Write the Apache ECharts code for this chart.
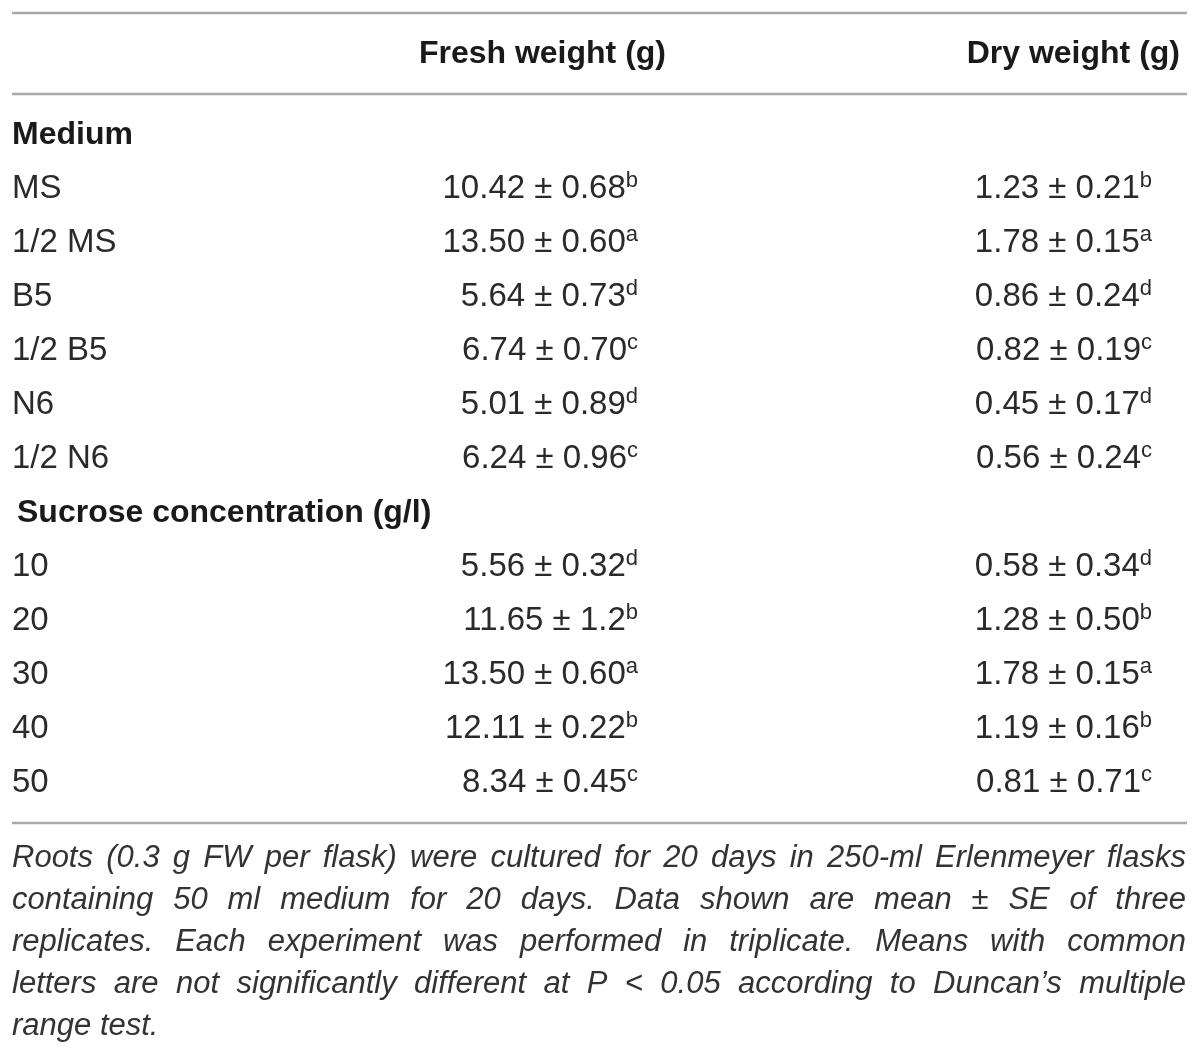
<!DOCTYPE html>
<html>
<head>
<meta charset="utf-8">
<script src="https://cdn.jsdelivr.net/npm/echarts@6/dist/echarts.min.js"></script>
<style>
  html, body { margin: 0; padding: 0; background: #fff; }
  #table-box { width: 1200px; height: 1057px; }
</style>
</head>
<body>
<div id="table-box"></div>
<script>
var FONT = '"Liberation Sans", Arial, Helvetica, sans-serif';
var TXT = 33;   // regular cells
var HEAD = 32;  // bold headers

// rows of the table (first column)
var rowLabels = ['Medium', 'MS', '1/2 MS', 'B5', '1/2 B5', 'N6', '1/2 N6',
    'Sucrose concentration (g/l)', '10', '20', '30', '40', '50'];
var groupRows = ['Medium', 'Sucrose concentration (g/l)'];
var columns = ['Fresh weight (g)', 'Dry weight (g)'];

// fresh weight
var freshMean   = [null, '10.42', '13.50', '5.64', '6.74', '5.01', '6.24', null, '5.56', '11.65', '13.50', '12.11', '8.34'];
var freshSE     = [null, '0.68', '0.60', '0.73', '0.70', '0.89', '0.96', null, '0.32', '1.2', '0.60', '0.22', '0.45'];
var freshLetter = [null, 'b', 'a', 'd', 'c', 'd', 'c', null, 'd', 'b', 'a', 'b', 'c'];

// dry weight
var dryMean   = [null, '1.23', '1.78', '0.86', '0.82', '0.45', '0.56', null, '0.58', '1.28', '1.78', '1.19', '0.81'];
var drySE     = [null, '0.21', '0.15', '0.24', '0.19', '0.17', '0.24', null, '0.34', '0.50', '0.15', '0.16', '0.71'];
var dryLetter = [null, 'b', 'a', 'd', 'c', 'd', 'c', null, 'd', 'b', 'a', 'b', 'c'];

var footLines = [
    'Roots (0.3 g FW per flask) were cultured for 20 days in 250-ml Erlenmeyer flasks',
    'containing 50 ml medium for 20 days. Data shown are mean \u00b1 SE of three',
    'replicates. Each experiment was performed in triplicate. Means with common',
    'letters are not significantly different at P < 0.05 according to Duncan\u2019s multiple',
    'range test.'
];

// cells for the value columns
var cells = [];
var cols = [[freshMean, freshSE, freshLetter], [dryMean, drySE, dryLetter]];
cols.forEach(function (c, ci) {
    for (var i = 0; i < rowLabels.length; i++) {
        if (c[0][i] === null) continue;
        cells.push({ value: [ci, i], mean: c[0][i], se: c[1][i], letter: c[2][i] });
    }
});

// justified footnote, word by word
var footSize = 31;
var footLeft = 12, footRight = 1186, footTop = 858, footStep = 42;
var ctx = document.createElement('canvas').getContext('2d');
function footFont(s) { return 'italic ' + s + 'px ' + FONT; }
function measure(t, s) { ctx.font = footFont(s); return ctx.measureText(t).width; }
function tooWide(l) {
    var n = l.split(' ').length - 1;
    var w = l.split(' ').reduce(function (s, x) { return s + measure(x, footSize); }, 0);
    return w + n * footSize * 0.22 > footRight - footLeft;
}
while (footLines.some(tooWide)) footSize -= 0.25;

var footGraphics = [];
footLines.forEach(function (line, li) {
    var words = line.split(' ');
    var y = footTop + li * footStep;
    var last = li === footLines.length - 1;
    var wordsW = words.reduce(function (s, w) { return s + measure(w, footSize); }, 0);
    var gap = last ? measure(' ', footSize) : (footRight - footLeft - wordsW) / (words.length - 1);
    var x = footLeft;
    words.forEach(function (w) {
        footGraphics.push({
            type: 'text', x: x, y: y,
            style: { text: w, font: footFont(footSize), fill: '#333', verticalAlign: 'middle', align: 'left' }
        });
        x += measure(w, footSize) + gap;
    });
});

// horizontal rules
var ruleStyle = { stroke: '#a9a9a9', lineWidth: 2.5 };
[13, 94, 823].forEach(function (y) {
    footGraphics.push({ type: 'line', shape: { x1: 12, y1: y, x2: 1187, y2: y }, style: ruleStyle });
});

var myChart = echarts.init(document.getElementById('table-box'), null, { renderer: 'canvas' });
var option = {
    backgroundColor: '#fff',
    animation: false,
    grid: { left: 638, right: 48, top: 108, bottom: 247 },
    xAxis: {
        type: 'category',
        boundaryGap: false,
        data: columns,
        show: false
    },
    yAxis: {
        type: 'category',
        inverse: true,
        data: rowLabels,
        axisLine: { show: false },
        axisTick: { show: false },
        splitLine: { show: false },
        axisLabel: {
            align: 'left',
            margin: 626,
            formatter: function (v) {
                if (v === groupRows[0]) return '{g|' + v + '}';
                if (v === groupRows[1]) return '{g2|' + v + '}';
                return '{n|' + v + '}';
            },
            rich: {
                n: { fontFamily: FONT, fontSize: TXT, color: '#2a2a2a' },
                g: { fontFamily: FONT, fontSize: HEAD, fontWeight: 'bold', color: '#1a1a1a' },
                g2: { fontFamily: FONT, fontSize: HEAD, fontWeight: 'bold', color: '#1a1a1a', padding: [0, 0, 0, 5] }
            }
        }
    },
    graphic: footGraphics,
    series: [
        // column headers
        {
            type: 'custom',
            silent: true,
            data: [[0, 0], [1, 0]],
            renderItem: function (params, api) {
                var p = api.coord([api.value(0), 0]);
                var band = api.size([0, 1])[1];
                return {
                    type: 'text',
                    x: p[0] + 28,
                    y: p[1] - band * 1.5,
                    style: {
                        text: columns[params.dataIndex],
                        font: 'bold ' + HEAD + 'px ' + FONT,
                        fill: '#1a1a1a',
                        align: 'right',
                        verticalAlign: 'middle'
                    }
                };
            }
        },
        // values: mean ± SE with letter
        {
            type: 'custom',
            silent: true,
            data: cells,
            renderItem: function (params, api) {
                var c = cells[params.dataIndex];
                var p = api.coord([api.value(0), api.value(1)]);
                return {
                    type: 'text',
                    x: p[0],
                    y: p[1],
                    style: {
                        text: '{v|' + c.mean + ' \u00b1 ' + c.se + '}{s|' + c.letter + '}',
                        align: 'right',
                        verticalAlign: 'middle',
                        rich: {
                            v: { fontFamily: FONT, fontSize: TXT, fill: '#2a2a2a', lineHeight: 38 },
                            s: { fontFamily: FONT, fontSize: 22, fill: '#2a2a2a', lineHeight: 22, verticalAlign: 'top' }
                        }
                    }
                };
            }
        }
    ]
};
myChart.setOption(option);
</script>
</body>
</html>
